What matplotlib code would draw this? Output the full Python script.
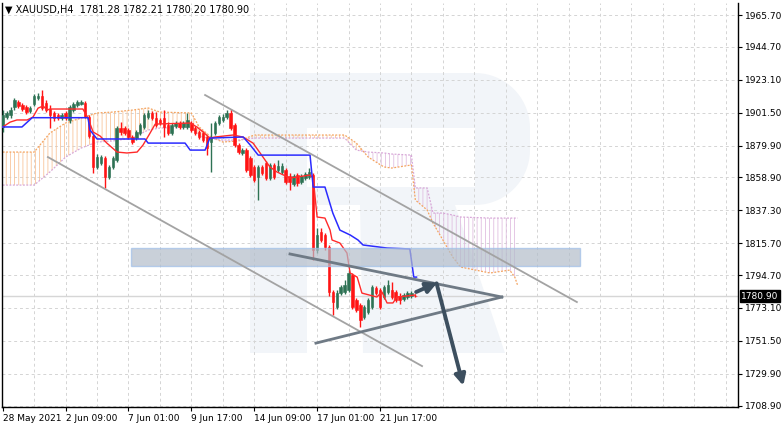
import numpy as np
import matplotlib.pyplot as plt
import matplotlib.transforms as mtransforms
from matplotlib.patches import Rectangle, Polygon

plt.rcParams['font.family'] = 'DejaVu Sans'
plt.rcParams['hatch.linewidth'] = 0.6

# XAUUSD H4 candles (bar index 0 = 28 May 2021)
opens = [1892.1, 1898.6, 1899.9, 1905.2, 1908.5, 1906.5, 1905.2, 1902.6, 1907.2, 1911.1,
         1912.4, 1907.8, 1903.9, 1901.3, 1899.9, 1898.0, 1901.3, 1896.7, 1903.2, 1906.5,
         1907.2, 1907.8, 1898.6, 1886.1, 1865.8, 1868.4, 1871.7, 1859.2, 1865.8, 1870.4,
         1891.4, 1891.4, 1890.1, 1885.5, 1884.8, 1888.1, 1892.1, 1898.6, 1901.3, 1898.0,
         1896.7, 1898.0, 1893.4, 1888.1, 1892.7, 1894.7, 1892.1, 1892.1, 1894.7, 1891.4,
         1888.8, 1888.1, 1885.5, 1882.2, 1888.1, 1894.7, 1896.7, 1898.6, 1901.3, 1893.4,
         1880.2, 1875.0, 1876.9, 1871.7, 1865.8, 1859.2, 1865.8, 1868.4, 1858.5, 1867.1,
         1863.8, 1862.5, 1863.8, 1859.8, 1854.6, 1860.5, 1855.9, 1858.5, 1859.2, 1860.5,
         1811.2, 1823.0, 1821.1, 1813.2, 1783.6, 1773.7, 1782.9, 1783.6, 1784.9, 1794.8,
         1778.3, 1775.0, 1767.1, 1770.4, 1773.7, 1786.2, 1784.9, 1780.3, 1783.6, 1784.9,
         1783.6, 1780.9, 1779.0, 1780.3, 1780.9, 1781.28]
highs = [1903.2, 1902.6, 1905.2, 1911.1, 1909.8, 1907.8, 1906.5, 1905.9, 1913.8, 1914.4,
         1916.4, 1909.8, 1906.5, 1902.6, 1901.3, 1901.3, 1902.6, 1906.5, 1908.5, 1909.8,
         1909.8, 1909.2, 1899.9, 1887.5, 1874.3, 1873.6, 1873.0, 1867.1, 1873.0, 1892.7,
         1895.3, 1892.7, 1891.4, 1886.8, 1890.1, 1894.7, 1901.3, 1903.2, 1902.6, 1901.9,
         1898.0, 1903.2, 1895.3, 1894.7, 1896.0, 1896.0, 1896.0, 1901.3, 1896.0, 1892.7,
         1890.1, 1889.4, 1886.8, 1894.7, 1896.0, 1899.9, 1900.6, 1903.2, 1903.9, 1894.7,
         1881.5, 1878.2, 1878.2, 1873.0, 1867.1, 1867.1, 1867.1, 1869.7, 1868.4, 1868.4,
         1870.4, 1868.4, 1865.1, 1861.8, 1861.2, 1861.8, 1861.2, 1862.5, 1865.1, 1861.8,
         1825.7, 1825.7, 1822.4, 1814.5, 1784.9, 1784.9, 1788.2, 1791.5, 1798.0, 1796.1,
         1779.6, 1776.3, 1775.0, 1779.6, 1788.2, 1787.5, 1786.2, 1788.2, 1791.5, 1790.1,
         1784.9, 1782.9, 1782.9, 1784.2, 1784.2, 1782.21]
lows = [1888.8, 1897.3, 1898.0, 1903.2, 1904.5, 1902.6, 1900.6, 1901.3, 1905.9, 1909.8,
        1903.2, 1901.9, 1891.4, 1896.0, 1896.7, 1896.7, 1896.7, 1894.7, 1901.9, 1905.2,
        1906.5, 1898.0, 1884.8, 1861.8, 1864.4, 1867.1, 1852.0, 1857.9, 1864.4, 1869.0,
        1886.8, 1886.8, 1884.2, 1880.9, 1883.5, 1886.8, 1890.7, 1897.3, 1896.7, 1892.1,
        1893.4, 1885.5, 1886.8, 1886.8, 1891.4, 1890.7, 1890.7, 1890.7, 1888.8, 1886.8,
        1884.2, 1882.2, 1873.6, 1862.5, 1886.8, 1893.4, 1895.3, 1897.3, 1890.1, 1878.9,
        1874.3, 1873.6, 1862.5, 1859.2, 1855.9, 1844.1, 1860.5, 1857.2, 1857.2, 1857.9,
        1862.5, 1861.2, 1854.6, 1850.6, 1853.3, 1853.3, 1854.6, 1857.2, 1857.9, 1804.6,
        1809.2, 1816.4, 1811.2, 1780.9, 1768.4, 1772.4, 1781.6, 1782.3, 1783.6, 1772.4,
        1770.4, 1760.6, 1765.8, 1769.1, 1772.4, 1781.6, 1772.4, 1779.0, 1782.3, 1779.0,
        1777.0, 1775.7, 1777.7, 1779.0, 1779.6, 1780.20]
closes = [1899.9, 1901.3, 1903.2, 1909.8, 1905.9, 1903.9, 1901.9, 1904.5, 1912.4, 1912.4,
          1904.5, 1903.2, 1899.9, 1898.0, 1898.0, 1899.9, 1898.0, 1905.2, 1907.2, 1908.5,
          1908.5, 1899.3, 1886.1, 1865.8, 1872.3, 1872.3, 1859.2, 1865.8, 1871.7, 1891.4,
          1888.8, 1888.1, 1885.5, 1882.2, 1888.8, 1893.4, 1899.9, 1901.3, 1898.0, 1893.4,
          1894.7, 1892.1, 1888.1, 1893.4, 1894.7, 1892.1, 1894.7, 1896.7, 1890.1, 1888.1,
          1885.5, 1883.5, 1878.2, 1884.8, 1894.7, 1898.6, 1898.6, 1901.3, 1891.4, 1880.2,
          1875.6, 1876.9, 1863.8, 1860.5, 1857.2, 1865.8, 1861.8, 1858.5, 1867.1, 1859.2,
          1866.4, 1866.4, 1855.9, 1855.9, 1859.8, 1855.2, 1859.8, 1861.2, 1862.5, 1811.2,
          1821.1, 1817.8, 1813.2, 1783.6, 1777.0, 1782.9, 1786.9, 1788.2, 1796.1, 1773.7,
          1771.7, 1765.2, 1773.7, 1778.3, 1786.9, 1782.9, 1773.7, 1786.9, 1788.2, 1780.3,
          1778.3, 1778.3, 1781.6, 1782.9, 1782.9, 1780.90]

# Ichimoku lines (bar index, price)
tenkan_idx = [0, 1.9, 3.6, 6.2, 7.7, 9.0, 10.3, 11.3, 12.0, 20.4, 21.7, 23.0, 24.8, 26.5, 29.1,
              31.6, 34.2, 35.7, 37.5, 38.8, 47.7, 49.4, 51.0, 52.7, 54.0, 58.6, 61.1, 63.7,
              65.5, 68.0, 69.8, 73.1, 78.2, 79.0, 80.0, 82.0, 83.3, 83.8, 85.8, 87.6, 88.4,
              90.2, 91.4, 95.2, 96.5, 97.8, 99.3, 100.3, 105.0]
tenkan_val = [1892.1, 1895.3, 1896.7, 1896.7, 1898.6, 1904.5, 1905.9, 1903.2, 1903.9, 1903.9,
              1898.0, 1888.8, 1886.1, 1881.5, 1875.6, 1875.0, 1875.6, 1880.2, 1888.1, 1894.0,
              1894.7, 1892.1, 1888.8, 1884.8, 1885.5, 1886.8, 1885.5, 1881.5, 1875.0, 1865.8,
              1862.5, 1858.5, 1860.5, 1858.5, 1832.9, 1832.2, 1824.3, 1817.8, 1815.8, 1809.2,
              1796.1, 1793.4, 1782.9, 1780.3, 1783.6, 1776.4, 1776.4, 1780.3, 1781.6]
kijun_idx = [0, 4.9, 7.5, 21.7, 22.2, 24.0, 36.2, 37.0, 46.4, 47.7, 51.5, 52.7, 61.2, 63.0,
             65.0, 78.2, 79.0, 82.0, 84.0, 85.8, 88.4, 90.4, 91.7, 97.8, 103.6, 104.6, 105.3]
kijun_val = [1892.1, 1892.1, 1898.2, 1898.2, 1890.1, 1884.2, 1884.2, 1881.5, 1881.5, 1876.9,
             1876.9, 1884.8, 1885.5, 1880.2, 1873.6, 1873.6, 1852.6, 1852.6, 1835.5, 1824.3,
             1821.1, 1817.8, 1814.5, 1812.5, 1811.9, 1793.4, 1793.4]
cloud_idx = [0, 8, 12, 16, 20, 24, 28, 33, 37, 40, 48, 50, 53, 56, 60, 64, 87, 90, 93, 97,
             99, 104, 105, 108, 109.5, 112, 114.5, 116.5, 124, 129, 130.3, 131]
span_a = [1875.6, 1875.6, 1888.1, 1894.7, 1898.0, 1901.3, 1901.9, 1903.2, 1904.6, 1901.9,
          1901.3, 1892.1, 1885.5, 1882.2, 1882.9, 1886.8, 1886.8, 1881.5, 1872.3, 1865.8,
          1865.1, 1867.1, 1844.1, 1837.5, 1828.9, 1817.8, 1806.6, 1800.0, 1796.1, 1798.0,
          1793.4, 1788.2]
span_b = [1853.9, 1853.9, 1862.5, 1872.3, 1878.3, 1882.2, 1882.9, 1884.8, 1890.1, 1891.4,
          1892.1, 1886.1, 1884.2, 1883.5, 1883.5, 1884.8, 1884.8, 1876.9, 1875.6, 1875.0,
          1874.3, 1873.6, 1852.0, 1852.0, 1835.5, 1835.5, 1834.2, 1832.9, 1832.2, 1832.2,
          1832.2, 1832.2]

# axis labels
price_ticks = [1965.70, 1944.70, 1923.10, 1901.50, 1879.90, 1858.90, 1837.30,
               1815.70, 1794.70, 1773.10, 1751.50, 1729.90, 1708.90]
date_ticks = [0, 16, 32, 48, 64, 80, 96]
date_labels = ['28 May 2021', '2 Jun 09:00', '7 Jun 01:00', '9 Jun 17:00',
               '14 Jun 09:00', '17 Jun 01:00', '21 Jun 17:00']

# drawn analysis (bar index, price)
zone_idx = [32.7, 146.9]
zone_price = [1800.7, 1812.5]
channel_upper = ([51.5, 146.1], [1913.1, 1777.0])
channel_lower = ([11.5, 106.7], [1872.3, 1734.9])
tri_upper = ([73.1, 127.0], [1808.6, 1780.3])
tri_lower = ([79.7, 127.0], [1750.0, 1780.3])
arrow_up = ((105.2, 1783.6), (110.6, 1789.8))
arrow_down = ((110.4, 1789.3), (117.2, 1722.0))

BULL = '#2e7254'
BEAR = '#ff1414'

fig = plt.figure(figsize=(7.82, 4.28), dpi=100)

# background watermark (pixel space)
bg = fig.add_axes([0, 0, 1, 1], zorder=0)
bg.set_xlim(0, 782)
bg.set_ylim(428, 0)
bg.axis('off')
wm = '#f2f5f9'
r = 55
t1 = np.linspace(-np.pi / 2, 0, 20)
t2 = np.linspace(0, np.pi / 2, 20)
bowl = ([(250, 73)] + list(zip(530 - r + r * np.cos(t1), 73 + r + r * np.sin(t1)))
        + list(zip(530 - r + r * np.cos(t2), 205 - r + r * np.sin(t2))) + [(250, 205)])
bg.add_patch(Polygon(bowl, closed=True, fc=wm, ec='none'))
bg.add_patch(Rectangle((307, 128), 168, 59, fc='white', ec='none'))
bg.add_patch(Rectangle((250, 73), 57, 280, fc=wm, ec='none'))
bg.add_patch(Polygon([(360, 205), (455, 205), (505, 353), (363, 353)], closed=True, fc=wm, ec='none'))

ax = fig.add_axes([2 / 782, 21 / 428, 736 / 782, 404 / 428], zorder=1)
ax.patch.set_alpha(0)
ax.set_xlim(-0.18, 187.1)
ax.set_ylim(1708.0, 1973.6)

# grid
grid_kw = dict(color='#d4d4d4', lw=0.7, linestyle=(0, (3, 3)), zorder=0.5)
for gx in np.arange(8, 188, 8):
    ax.axvline(gx, **grid_kw)
for gy in price_ticks:
    ax.axhline(gy, **grid_kw)

# cloud
ci = np.array(cloud_idx)
sa = np.array(span_a)
sb = np.array(span_b)
ax.fill_between(ci, sa, sb, where=sa >= sb, interpolate=True, facecolor='none',
                edgecolor='#f8c49a', hatch='||||', lw=0, zorder=1)
ax.fill_between(ci, sa, sb, where=sa < sb, interpolate=True, facecolor='none',
                edgecolor='#e0bee0', hatch='||||', lw=0, zorder=1)
ax.plot(ci, sa, color='#f4a460', lw=0.9, linestyle=(0, (1.5, 1.2)), zorder=1.2)
ax.plot(ci, sb, color='#d8a8d8', lw=0.9, linestyle=(0, (1.5, 1.2)), zorder=1.2)

# current price line
last = closes[-1]
ax.axhline(last, color='#d6d6d6', lw=1, zorder=1.5)

# candles
x = np.arange(len(closes))
o = np.array(opens)
c = np.array(closes)
cols = np.where(c >= o, BULL, BEAR)
ax.vlines(x, lows, highs, colors=cols, lw=1, zorder=3)
body = np.maximum(np.abs(c - o), 0.4)
ax.bar(x, body, bottom=np.minimum(o, c), width=0.62, color=cols, edgecolor=cols,
       lw=0.4, zorder=3.5)

# tenkan / kijun
ax.plot(tenkan_idx, tenkan_val, color='#ff2a2a', lw=1, zorder=4)
ax.plot(kijun_idx, kijun_val, color='#2b2bff', lw=1.1, zorder=4)

# support zone
ax.add_patch(Rectangle((zone_idx[0], zone_price[0]), zone_idx[1] - zone_idx[0],
                       zone_price[1] - zone_price[0], fc='#b2bdca', ec='#9fbfe8',
                       lw=1, alpha=0.7, zorder=5))

# channel and triangle
ax.plot(*channel_upper, color='#a3a3a3', lw=1.3, zorder=6)
ax.plot(*channel_lower, color='#a3a3a3', lw=1.3, zorder=6)
ax.plot(*tri_upper, color='#6f7a85', lw=2, zorder=6)
ax.plot(*tri_lower, color='#6f7a85', lw=2, zorder=6)

# arrows
akw = dict(arrowstyle='-|>', color='#3d4f5f', lw=2.8, mutation_scale=16,
           shrinkA=0, shrinkB=0)
ax.annotate('', xy=arrow_up[1], xytext=arrow_up[0], arrowprops=akw, zorder=7)
ax.annotate('', xy=arrow_down[1], xytext=arrow_down[0], arrowprops=akw, zorder=7)

# axes styling
for s in ['left', 'right', 'bottom']:
    ax.spines[s].set_color('black')
    ax.spines[s].set_linewidth(1)
ax.spines['top'].set_visible(False)
ax.yaxis.tick_right()
ax.set_yticks(price_ticks)
ax.set_yticklabels([f'{p:.2f}' for p in price_ticks])
ax.tick_params(axis='y', length=3, width=0.8, pad=2, labelsize=6.5)
ax.set_xticks(date_ticks)
ax.set_xticklabels(date_labels, ha='left')
ax.tick_params(axis='x', length=3, width=0.8, pad=2, labelsize=6.5)

trans = mtransforms.blended_transform_factory(ax.transAxes, ax.transData)
ax.text(1.004, last, f'{last:.2f}', transform=trans, color='white', fontsize=6.5,
        va='center', ha='left', clip_on=False,
        bbox=dict(boxstyle='square,pad=0.15', fc='black', ec='black'))

fig.text(5 / 782, 1 - 10 / 428, '\u25bc XAUUSD,H4  1781.28 1782.21 1780.20 1780.90',
         fontsize=7, va='center', ha='left')

fig.savefig('out.png', dpi=100, facecolor='white')
